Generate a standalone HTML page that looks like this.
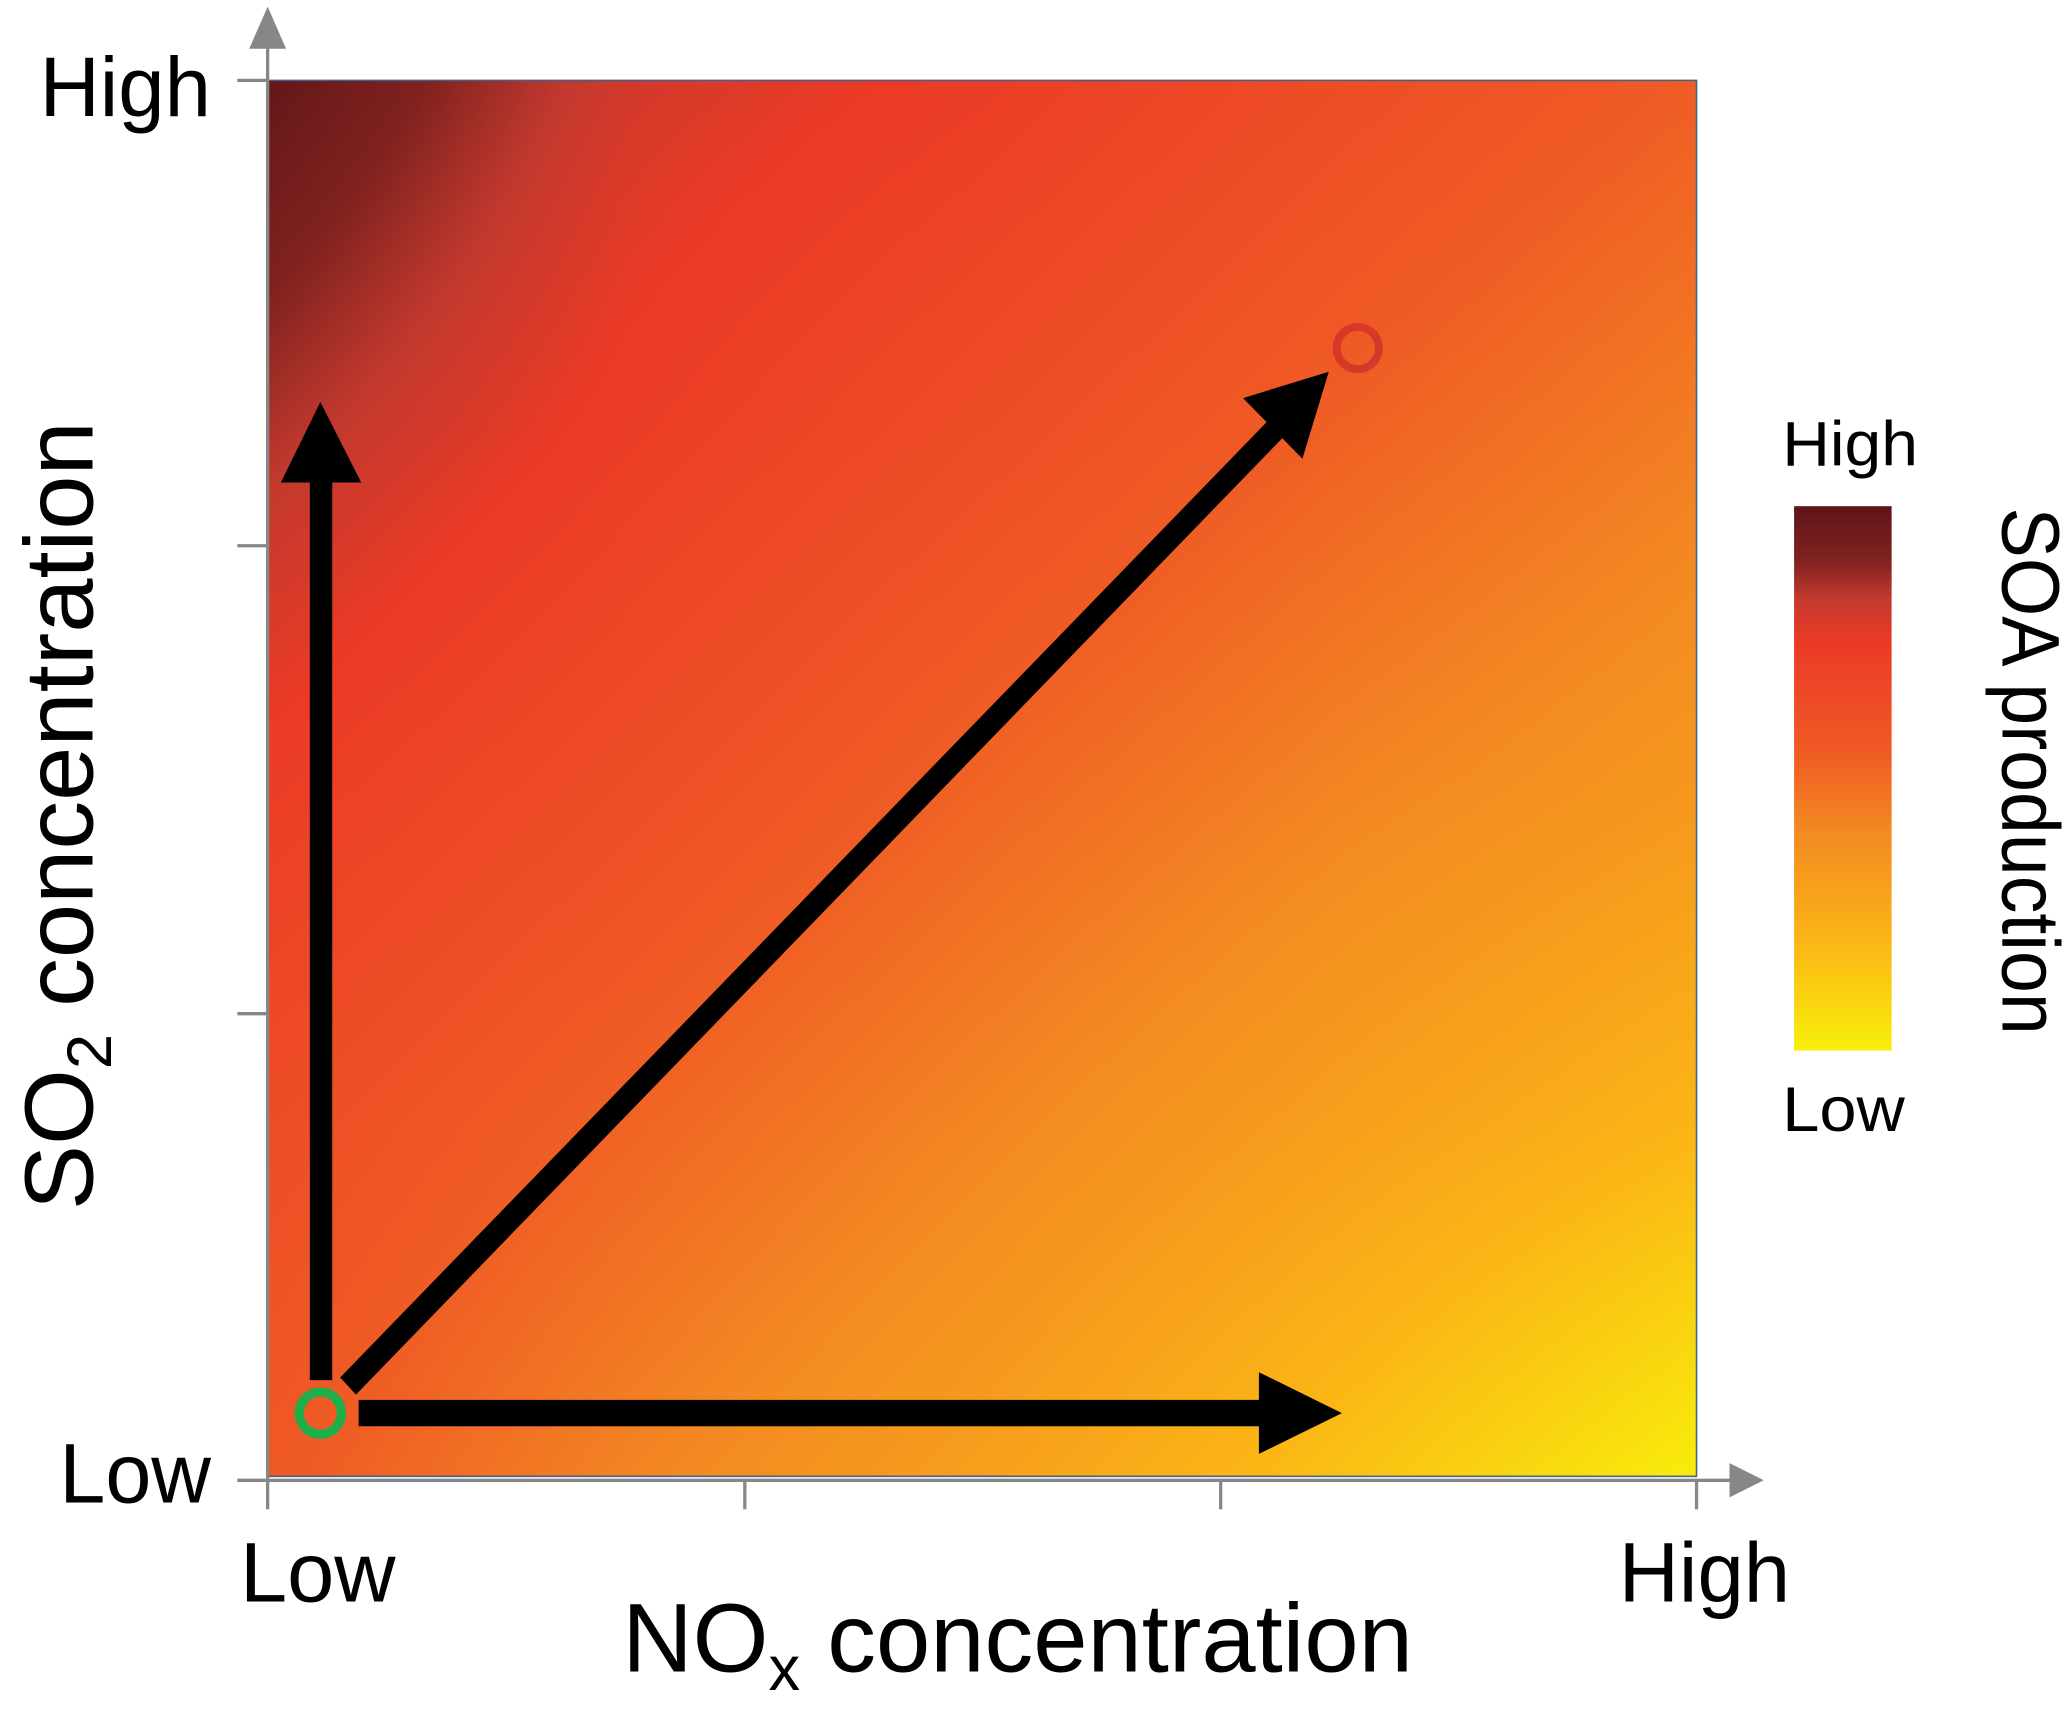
<!DOCTYPE html>
<html><head><meta charset="utf-8">
<style>
html,body{margin:0;padding:0;background:#fff;}
#wrap{position:relative;width:2067px;height:1709px;overflow:hidden;}
#heat{position:absolute;left:267.6px;top:80.4px;width:1429px;height:1396px;}
#ov{position:absolute;left:0;top:0;}
text{font-family:"Liberation Sans Narrow","Liberation Sans",sans-serif;fill:#000;}
.cal{font-family:"Liberation Sans",sans-serif;}
</style></head>
<body>
<div id="wrap">
<canvas id="heat" width="715" height="698"></canvas>
<svg id="ov" width="2067" height="1709" viewBox="0 0 1568 1296.5">
  <rect x="203" y="61" width="1084" height="1059" fill="none" stroke="#44608a" stroke-width="1.2"/>
  <g stroke="#878787" stroke-width="2.5">
    <line x1="203" y1="25" x2="203" y2="1145"/>
    <line x1="180" y1="1123" x2="1318" y2="1123"/>
    <line x1="180" y1="61" x2="203" y2="61"/>
    <line x1="180" y1="414" x2="203" y2="414"/>
    <line x1="180" y1="769" x2="203" y2="769"/>
    <line x1="565" y1="1123" x2="565" y2="1145"/>
    <line x1="926" y1="1123" x2="926" y2="1145"/>
    <line x1="1287" y1="1123" x2="1287" y2="1145"/>
  </g>
  <polygon points="203,5 189,37 217,37" fill="#878787"/>
  <polygon points="1338,1123 1312,1110 1312,1136" fill="#878787"/>

  <text x="30" y="88" font-size="64" class="cal" textLength="130" lengthAdjust="spacingAndGlyphs">High</text>
  <text x="45" y="1140" font-size="64" class="cal" textLength="115" lengthAdjust="spacingAndGlyphs">Low</text>
  <text x="182" y="1215" font-size="64" class="cal" textLength="118" lengthAdjust="spacingAndGlyphs">Low</text>
  <text x="1228" y="1215" font-size="64" class="cal" textLength="130" lengthAdjust="spacingAndGlyphs">High</text>

  <text x="472" y="1268" font-size="74"><tspan>NO</tspan><tspan font-size="48" dy="14">x</tspan><tspan dy="-14"> concentration</tspan></text>
  <g transform="translate(70,918) rotate(-90)">
    <text x="0" y="0" font-size="74"><tspan>SO</tspan><tspan font-size="48" dy="14">2</tspan><tspan dy="-14"> concentration</tspan></text>
  </g>

  <defs>
    <linearGradient id="cb" x1="0" y1="0" x2="0" y2="1">
      <stop offset="0" stop-color="#5e1418"/>
      <stop offset="0.1" stop-color="#80221f"/>
      <stop offset="0.17" stop-color="#c2392e"/>
      <stop offset="0.25" stop-color="#eb3a26"/>
      <stop offset="0.45" stop-color="#ef5a25"/>
      <stop offset="0.6" stop-color="#f38a22"/>
      <stop offset="0.8" stop-color="#fbb516"/>
      <stop offset="1" stop-color="#f8f00a"/>
    </linearGradient>
  </defs>
  <rect x="1361" y="384" width="74" height="413" fill="url(#cb)"/>
  <text x="1352" y="353" font-size="48" class="cal" textLength="103" lengthAdjust="spacingAndGlyphs">High</text>
  <text x="1352" y="858" font-size="48" class="cal" textLength="93" lengthAdjust="spacingAndGlyphs">Low</text>
  <g transform="translate(1519,385) rotate(90)">
    <text x="0" y="0" font-size="62" textLength="400" lengthAdjust="spacingAndGlyphs">SOA production</text>
  </g>

  <g fill="#000">
    <rect x="235" y="362" width="17" height="685"/>
    <polygon points="243,305 213,366 274,366"/>
    <rect x="272" y="1062" width="688" height="20"/>
    <polygon points="1018,1072 955,1041 955,1103"/>
    <polygon points="258,1045 270,1058 977,328 965,316"/>
    <polygon points="1008,282 943,302 988,348"/>
  </g>
  <circle cx="243" cy="1072" r="16" fill="none" stroke="#1eae4a" stroke-width="7"/>
  <circle cx="1030" cy="264" r="16" fill="none" stroke="#d6382a" stroke-width="6"/>
</svg>
</div>
<script>
// SOA production (0 = low, 1 = high) on a grid: rows top (high SO2) -> bottom, cols low NOx -> high NOx
const row0 = [0.98, 0.80, 0.73, 0.63, 0.54];
const row1 = [0.85, 0.73, 0.63, 0.53, 0.44];
const row2 = [0.73, 0.63, 0.52, 0.42, 0.34];
const row3 = [0.63, 0.52, 0.41, 0.30, 0.20];
const row4 = [0.56, 0.42, 0.30, 0.16, 0.01];
const grid = [row0, row1, row2, row3, row4];
const cmapPos = [0, 0.1, 0.17, 0.25, 0.45, 0.6, 0.8, 1];
const cmapCol = [[94,20,24],[128,34,31],[194,57,46],[235,58,38],[239,90,37],[243,138,34],[251,181,22],[248,240,10]];

function colorFor(v){
  const p = 1 - Math.max(0, Math.min(1, v));
  for (let i = 1; i < cmapPos.length; i++){
    if (p <= cmapPos[i]){
      const t = (p - cmapPos[i-1]) / (cmapPos[i] - cmapPos[i-1]);
      const a = cmapCol[i-1], b = cmapCol[i];
      return [a[0]+(b[0]-a[0])*t, a[1]+(b[1]-a[1])*t, a[2]+(b[2]-a[2])*t];
    }
  }
  return cmapCol[cmapCol.length-1];
}
function sample(fx, fy){
  const R = grid.length - 1, C = grid[0].length - 1;
  const gx = fx * C, gy = fy * R;
  const i = Math.min(R-1, Math.floor(gy)), j = Math.min(C-1, Math.floor(gx));
  const tx = gx - j, ty = gy - i;
  const a = grid[i][j], b = grid[i][j+1], c = grid[i+1][j], d = grid[i+1][j+1];
  return (a*(1-tx)+b*tx)*(1-ty) + (c*(1-tx)+d*tx)*ty;
}
const cv = document.getElementById('heat');
const ctx = cv.getContext('2d');
const W = cv.width, H = cv.height;
const img = ctx.createImageData(W, H);
for (let y = 0; y < H; y++){
  for (let x = 0; x < W; x++){
    const c = colorFor(sample(x/(W-1), y/(H-1)));
    const k = (y*W + x)*4;
    img.data[k] = c[0]; img.data[k+1] = c[1]; img.data[k+2] = c[2]; img.data[k+3] = 255;
  }
}
ctx.putImageData(img, 0, 0);
</script>
</body></html>
